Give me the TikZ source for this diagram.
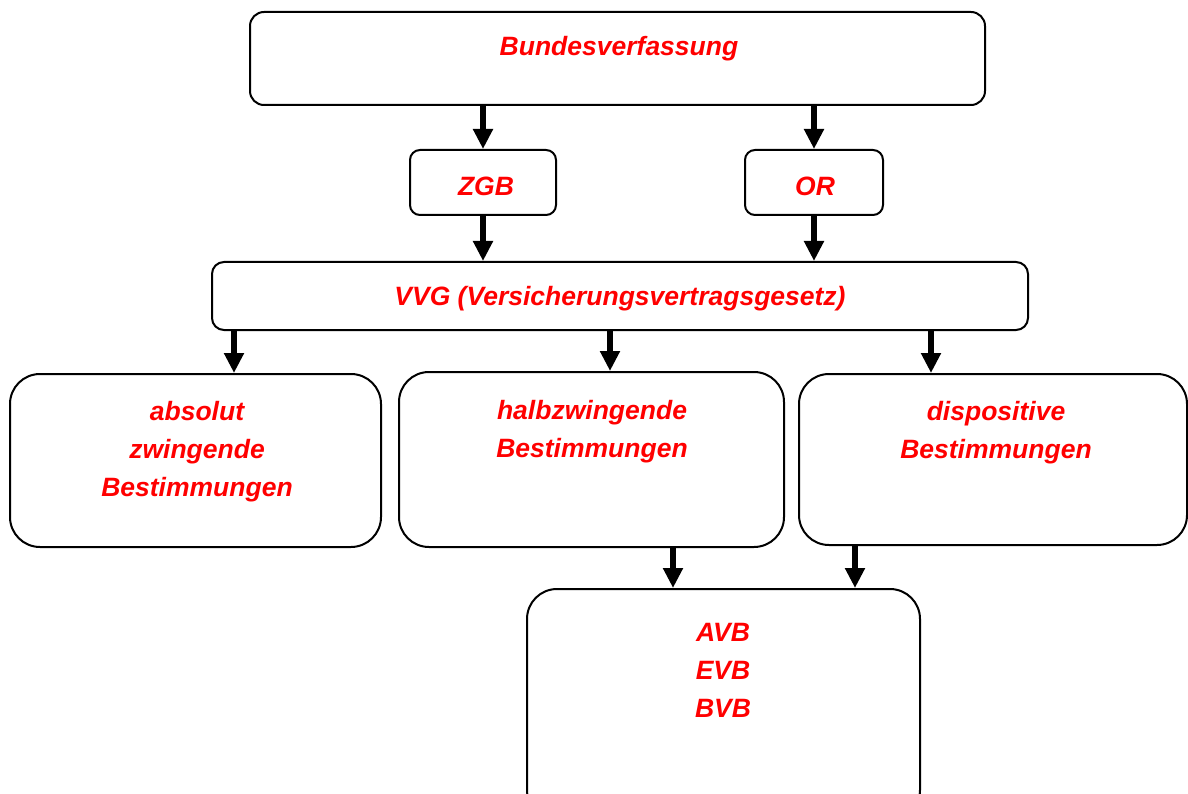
\documentclass[tikz,border=0pt]{standalone}
\usepackage{fontspec}
\setmainfont{Liberation Sans}
\usepackage{tikz}
\usetikzlibrary{arrows.meta,positioning}

\tikzset{
  box/.style={draw, line width=2pt, inner sep=0pt},
  lbl/.style={text=red, font=\fontsize{26.5}{38}\selectfont\bfseries\itshape, align=center, inner sep=0pt},
  arr/.style={line width=6pt, -{Triangle[width=19pt,length=20pt]}}
}

\begin{document}
\begin{tikzpicture}[x=1pt,y=-1pt]
\useasboundingbox (0,0) rectangle (1188,794);
\clip (0,0) rectangle (1188,794);
% boxes
\node[box, rounded corners=14pt, minimum width=735pt, minimum height=93pt] (bv) at (617.5,58.5) {};
\node[box, rounded corners=10pt, minimum width=146pt, minimum height=65pt] (zgb) at (483,182.5) {};
\node[box, rounded corners=10pt, minimum width=138pt, minimum height=65pt] (or) at (814,182.5) {};
\node[box, rounded corners=12pt, minimum width=816pt, minimum height=68pt] (vvg) at (620,296) {};
\node[box, rounded corners=30pt, minimum width=371pt, minimum height=173pt] (abs) at (195.5,460.5) {};
\node[box, rounded corners=30pt, minimum width=385pt, minimum height=175pt] (halb) at (591.5,459.5) {};
\node[box, rounded corners=30pt, minimum width=388pt, minimum height=171pt] (disp) at (993,459.5) {};
\node[box, rounded corners=30pt, minimum width=393pt, minimum height=231pt] (avb) at (723.5,704.5) {};
% texts
\node[lbl] (tbv) at (619,49) {Bundesverfassung};
\node[lbl] (tzgb) at (486,186) {ZGB};
\node[lbl] (tor) at (815,186) {OR};
\node[lbl] (tvvg) at (620,299) {VVG (Versicherungsvertragsgesetz)};
\node[lbl] (tabs) at (197,452) {absolut\\zwingende\\Bestimmungen};
\node[lbl] (thalb) at (592,432) {halbzwingende\\Bestimmungen};
\node[lbl] (tdisp) at (996,433) {dispositive\\Bestimmungen};
\node[lbl] (tavb) at (723,670) {AVB\\EVB\\BVB};
% arrows
\draw[arr] (bv.south -| zgb.north) -- (zgb.north);
\draw[arr] (bv.south -| or.north) -- (or.north);
\draw[arr] (zgb.south) -- (zgb.south |- vvg.north);
\draw[arr] (or.south) -- (or.south |- vvg.north);
\draw[arr] ([xshift=23pt]vvg.south west) -- ([xshift=23pt]vvg.south west |- abs.north);
\draw[arr] ([xshift=-10pt]vvg.south) -- ([xshift=-10pt]vvg.south |- halb.north);
\draw[arr] ([xshift=-98pt]vvg.south east) -- ([xshift=-98pt]vvg.south east |- disp.north);
\draw[arr] ([xshift=81.5pt]halb.south) -- ([xshift=81.5pt]halb.south |- avb.north);
\draw[arr] ([xshift=-138pt]disp.south) -- ([xshift=-138pt]disp.south |- avb.north);
\end{tikzpicture}
\end{document}
